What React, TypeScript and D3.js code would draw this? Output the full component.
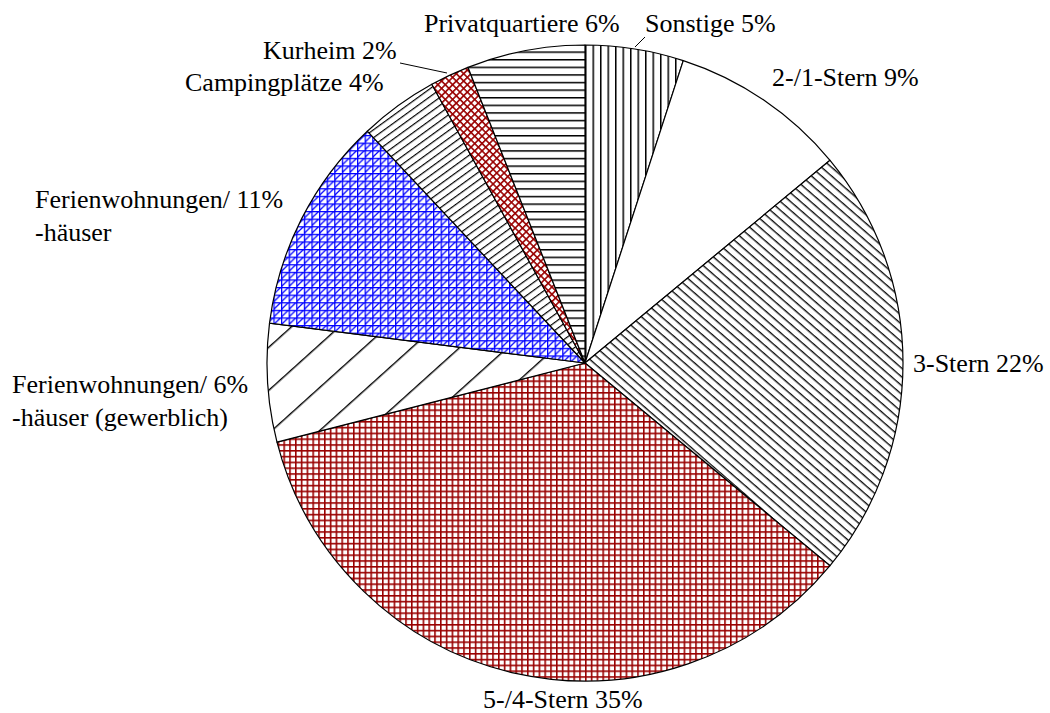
import * as d3 from 'd3';

const categories = [
    'Sonstige',
    '2-/1-Stern',
    '3-Stern',
    '5-/4-Stern',
    'Ferienwohnungen gewerblich',
    'Ferienwohnungen',
    'Campingplätze',
    'Kurheim',
    'Privatquartiere',
];
const shares = [5, 9, 22, 35, 6, 11, 4, 2, 6];
const labelLines = [
    ['Sonstige 5%'],
    ['2-/1-Stern 9%'],
    ['3-Stern 22%'],
    ['5-/4-Stern 35%'],
    ['Ferienwohnungen/ 6%', '-häuser (gewerblich)'],
    ['Ferienwohnungen/ 11%', '-häuser'],
    ['Campingplätze 4%'],
    ['Kurheim 2%'],
    ['Privatquartiere 6%'],
];

// hand placed label anchors (left x, first baseline)
const labelPos: [number, number][] = [
    [645, 32],
    [772, 86],
    [913, 372],
    [483, 708],
    [12, 393],
    [35, 208],
    [185, 91],
    [263, 59],
    [424, 32],
];
const leaders: Record<number, [number, number, number, number]> = {
    0: [635, 47, 645, 37],
    7: [400, 63, 447, 73],
};

const width = 1050;
const height = 713;
const cx = 585;
const cy = 363;
const radius = 318;
const darkRed = '#990000';
const blue = '#0000ff';

const fills = [
    'url(#p-vert)',
    '#ffffff',
    'url(#p-down)',
    'url(#p-redgrid)',
    'url(#p-wide)',
    'url(#p-bluegrid)',
    'url(#p-up)',
    'url(#p-redcross)',
    'url(#p-horiz)',
];

function Patterns() {
    return (
        <defs>
            <pattern id="p-vert" patternUnits="userSpaceOnUse" width={7.5} height={10}>
                <rect width={7.5} height={10} fill="#fff" />
                <line x1={0.75} y1={0} x2={0.75} y2={10} stroke="#000" strokeWidth={1.5} />
            </pattern>
            <pattern id="p-horiz" patternUnits="userSpaceOnUse" width={10} height={7.6}>
                <rect width={10} height={7.6} fill="#fff" />
                <line x1={0} y1={0.75} x2={10} y2={0.75} stroke="#000" strokeWidth={1.5} />
            </pattern>
            <pattern
                id="p-down"
                patternUnits="userSpaceOnUse"
                width={10}
                height={6.6}
                patternTransform="rotate(41)"
            >
                <rect width={10} height={6.6} fill="#fff" />
                <line x1={0} y1={0.7} x2={10} y2={0.7} stroke="#000" strokeWidth={1.3} />
            </pattern>
            <pattern
                id="p-up"
                patternUnits="userSpaceOnUse"
                width={10}
                height={6.4}
                patternTransform="rotate(-36)"
            >
                <rect width={10} height={6.4} fill="#fff" />
                <line x1={0} y1={0.6} x2={10} y2={0.6} stroke="#000" strokeWidth={1.2} />
            </pattern>
            <pattern
                id="p-wide"
                patternUnits="userSpaceOnUse"
                width={10}
                height={32}
                patternTransform="rotate(-42)"
            >
                <rect width={10} height={32} fill="#fff" />
                <line x1={0} y1={0.7} x2={10} y2={0.7} stroke="#000" strokeWidth={1.4} />
            </pattern>
            <pattern id="p-redgrid" patternUnits="userSpaceOnUse" width={5.8} height={5.8}>
                <rect width={5.8} height={5.8} fill="#fff" />
                <line x1={0.8} y1={0} x2={0.8} y2={5.8} stroke={darkRed} strokeWidth={1.6} />
                <line x1={0} y1={0.8} x2={5.8} y2={0.8} stroke={darkRed} strokeWidth={1.6} />
            </pattern>
            <pattern id="p-bluegrid" patternUnits="userSpaceOnUse" width={7.6} height={7.6}>
                <rect width={7.6} height={7.6} fill="#fff" />
                <line x1={0.6} y1={0} x2={0.6} y2={7.6} stroke={blue} strokeWidth={1.3} />
                <line x1={0} y1={0.6} x2={7.6} y2={0.6} stroke={blue} strokeWidth={1.3} />
                <line x1={-0.5} y1={8.1} x2={8.1} y2={-0.5} stroke={blue} strokeWidth={1.2} />
            </pattern>
            <pattern
                id="p-redcross"
                patternUnits="userSpaceOnUse"
                width={5.2}
                height={5.2}
                patternTransform="rotate(45)"
            >
                <rect width={5.2} height={5.2} fill="#fff" />
                <line x1={0.8} y1={0} x2={0.8} y2={5.2} stroke={darkRed} strokeWidth={1.6} />
                <line x1={0} y1={0.8} x2={5.2} y2={0.8} stroke={darkRed} strokeWidth={1.6} />
            </pattern>
        </defs>
    );
}

export default function App() {
    const pie = d3
        .pie<number>()
        .sort(null)
        .value((d) => d)
        .startAngle(0)
        .endAngle(2 * Math.PI);
    const arcs = pie(shares);
    const arc = d3.arc<d3.PieArcDatum<number>>().innerRadius(0).outerRadius(radius);

    return (
        <svg
            width={width}
            height={height}
            style={{ position: 'absolute', left: 0, top: 0, background: '#fff' }}
            fontFamily="'Times New Roman', 'Liberation Serif', serif"
        >
            <Patterns />
            <g transform={`translate(${cx},${cy})`}>
                {arcs.map((a, i) => (
                    <path
                        key={categories[i]}
                        d={arc(a) ?? ''}
                        fill={fills[i]}
                        stroke="#000"
                        strokeWidth={1.2}
                        strokeLinejoin="round"
                    />
                ))}
            </g>
            {Object.entries(leaders).map(([k, [x1, y1, x2, y2]]) => (
                <line key={k} x1={x1} y1={y1} x2={x2} y2={y2} stroke="#000" strokeWidth={1} />
            ))}
            {labelLines.map((lines, i) => (
                <text
                    key={categories[i]}
                    x={labelPos[i][0]}
                    y={labelPos[i][1]}
                    fontSize={26}
                    fill="#000"
                >
                    {lines.map((t, j) => (
                        <tspan key={j} x={labelPos[i][0]} y={labelPos[i][1] + j * 32.5}>
                            {t}
                        </tspan>
                    ))}
                </text>
            ))}
        </svg>
    );
}
